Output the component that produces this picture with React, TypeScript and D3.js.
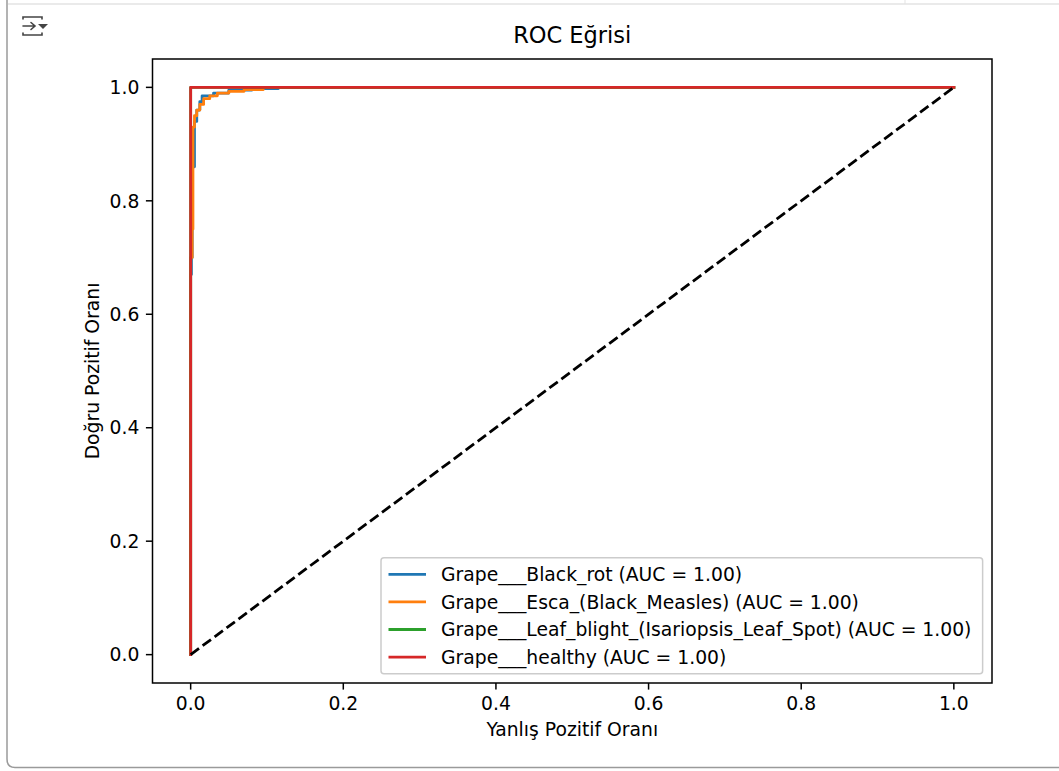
import React from "react";
import * as d3 from "d3";

// ROC curves per class: [false positive rate, true positive rate]
const classNames = [
  "Grape___Black_rot",
  "Grape___Esca_(Black_Measles)",
  "Grape___Leaf_blight_(Isariopsis_Leaf_Spot)",
  "Grape___healthy",
];
const aucValues = [1.0, 1.0, 1.0, 1.0];
const seriesColors = ["#1f77b4", "#ff7f0e", "#2ca02c", "#d62728"];

const blackRotRoc: [number, number][] = [
  [0, 0], [0, 0.67], [0.001, 0.67], [0.001, 0.7], [0.002, 0.7], [0.002, 0.86],
  [0.005, 0.86], [0.005, 0.94], [0.008, 0.94], [0.008, 0.96], [0.012, 0.96],
  [0.012, 0.975], [0.015, 0.975], [0.015, 0.985], [0.03, 0.985], [0.03, 0.99],
  [0.05, 0.99], [0.05, 0.995], [0.08, 0.995], [0.08, 0.998], [0.115, 0.998],
  [0.115, 1], [1, 1],
];
const escaRoc: [number, number][] = [
  [0, 0], [0, 0.7], [0.002, 0.7], [0.002, 0.75], [0.003, 0.75], [0.003, 0.93],
  [0.005, 0.93], [0.005, 0.95], [0.008, 0.95], [0.008, 0.96], [0.012, 0.96],
  [0.012, 0.97], [0.017, 0.97], [0.017, 0.98], [0.025, 0.98], [0.025, 0.985],
  [0.035, 0.985], [0.035, 0.99], [0.05, 0.99], [0.05, 0.993], [0.07, 0.993],
  [0.07, 0.996], [0.095, 0.996], [0.095, 1], [1, 1],
];
const leafBlightRoc: [number, number][] = [[0, 0], [0, 1], [1, 1]];
const healthyRoc: [number, number][] = [[0, 0], [0, 1], [1, 1]];
const rocCurves = [blackRotRoc, escaRoc, leafBlightRoc, healthyRoc];

const chanceLine: [number, number][] = [[0, 0], [1, 1]];
const tickValues = [0, 0.2, 0.4, 0.6, 0.8, 1.0];

const titleText = "ROC Eğrisi";
const xLabel = "Yanlış Pozitif Oranı";
const yLabel = "Doğru Pozitif Oranı";

const W = 1059;
const H = 771;
const plot = { left: 152.5, right: 992, top: 59, bottom: 683 };
const FS = 18.75;
const font = "'DejaVu Sans', sans-serif";

export default function App() {
  const x = d3.scaleLinear().domain([-0.05, 1.05]).range([plot.left, plot.right]);
  const y = d3.scaleLinear().domain([-0.05, 1.05]).range([plot.bottom, plot.top]);
  const line = d3
    .line<[number, number]>()
    .x((d) => x(d[0]))
    .y((d) => y(d[1]));

  const legendRight = plot.right - 0.5 * FS;
  const legendBottom = plot.bottom - 0.5 * FS;
  const rowStep = 27.6;
  const legendHeight = 0.8 * FS + 4 * 18.2 + 3 * 0.5 * FS;
  const legendTop = legendBottom - legendHeight;
  const legendLeft = 381;
  const handleX0 = legendLeft + 0.4 * FS;
  const handleX1 = handleX0 + 2 * FS;
  const textX = handleX1 + 0.8 * FS;

  return (
    <svg
      width={W}
      height={H}
      style={{ position: "absolute", left: 0, top: 0, background: "#fff" }}
      fontFamily={font}
    >
      {/* output cell frame */}
      <line x1={8} x2={W} y1={4} y2={4} stroke="#e3e3e3" strokeWidth={1.5} />
      <line x1={905} x2={905} y1={0} y2={4} stroke="#e3e3e3" strokeWidth={1} />
      <path
        d={`M7,0 L7,759 Q7,767.5 15,767.5 L${W},767.5`}
        fill="none"
        stroke="#9a9a9a"
        strokeWidth={1.5}
      />
      {/* output toggle icon */}
      <g stroke="#444" strokeWidth={1.6} fill="none" strokeLinecap="round">
        <path d="M23,19 L23,17 L42,17 L42,19" />
        <path d="M23,33 L23,35 L42,35 L42,33" />
        <path d="M23,26 L35,26 M31,22.5 L35,26 L31,29.5" />
      </g>
      <path d="M38,24 L48,24 L43,29 Z" fill="#444" />

      <defs>
        <clipPath id="plot-area">
          <rect x={plot.left} y={plot.top} width={plot.right - plot.left} height={plot.bottom - plot.top} />
        </clipPath>
      </defs>

      <g clipPath="url(#plot-area)">
        {rocCurves.map((pts, i) => (
          <path
            key={i}
            d={line(pts) ?? ""}
            fill="none"
            stroke={seriesColors[i]}
            strokeWidth={2.8}
            strokeLinejoin="round"
            strokeLinecap="square"
          />
        ))}
        <path
          d={line(chanceLine) ?? ""}
          fill="none"
          stroke="#000"
          strokeWidth={2.8}
          strokeDasharray="10.4 4.5"
        />
      </g>

      {/* axes frame */}
      <rect
        x={plot.left}
        y={plot.top}
        width={plot.right - plot.left}
        height={plot.bottom - plot.top}
        fill="none"
        stroke="#000"
        strokeWidth={1.5}
      />

      {/* x ticks */}
      {tickValues.map((t) => (
        <g key={"x" + t}>
          <line x1={x(t)} x2={x(t)} y1={plot.bottom} y2={plot.bottom + 6.6} stroke="#000" strokeWidth={1.5} />
          <text x={x(t)} y={710} textAnchor="middle" fontSize={FS} fill="#000">
            {t.toFixed(1)}
          </text>
        </g>
      ))}
      {/* y ticks */}
      {tickValues.map((t) => (
        <g key={"y" + t}>
          <line x1={plot.left - 6.6} x2={plot.left} y1={y(t)} y2={y(t)} stroke="#000" strokeWidth={1.5} />
          <text x={plot.left - 13.1} y={y(t)} dy="0.36em" textAnchor="end" fontSize={FS} fill="#000">
            {t.toFixed(1)}
          </text>
        </g>
      ))}

      <text x={(plot.left + plot.right) / 2} y={42.5} textAnchor="middle" fontSize={22.5} fill="#000">
        {titleText}
      </text>
      <text x={(plot.left + plot.right) / 2} y={736} textAnchor="middle" fontSize={FS} fill="#000">
        {xLabel}
      </text>
      <text
        transform={`translate(${99},${(plot.top + plot.bottom) / 2}) rotate(-90)`}
        textAnchor="middle"
        fontSize={FS}
        fill="#000"
      >
        {yLabel}
      </text>

      {/* legend */}
      <rect
        x={legendLeft}
        y={legendTop}
        width={legendRight - legendLeft}
        height={legendHeight}
        rx={3}
        fill="#fff"
        fillOpacity={0.8}
        stroke="#cccccc"
        strokeWidth={1.5}
      />
      {classNames.map((name, i) => {
        const cy = legendTop + 0.4 * FS + 9.1 + i * rowStep;
        return (
          <g key={name}>
            <line x1={handleX0} x2={handleX1} y1={cy} y2={cy} stroke={seriesColors[i]} strokeWidth={2.8} />
            <text x={textX} y={cy} dy="0.36em" fontSize={FS} fill="#000">
              {`${name} (AUC = ${aucValues[i].toFixed(2)})`}
            </text>
          </g>
        );
      })}
    </svg>
  );
}
